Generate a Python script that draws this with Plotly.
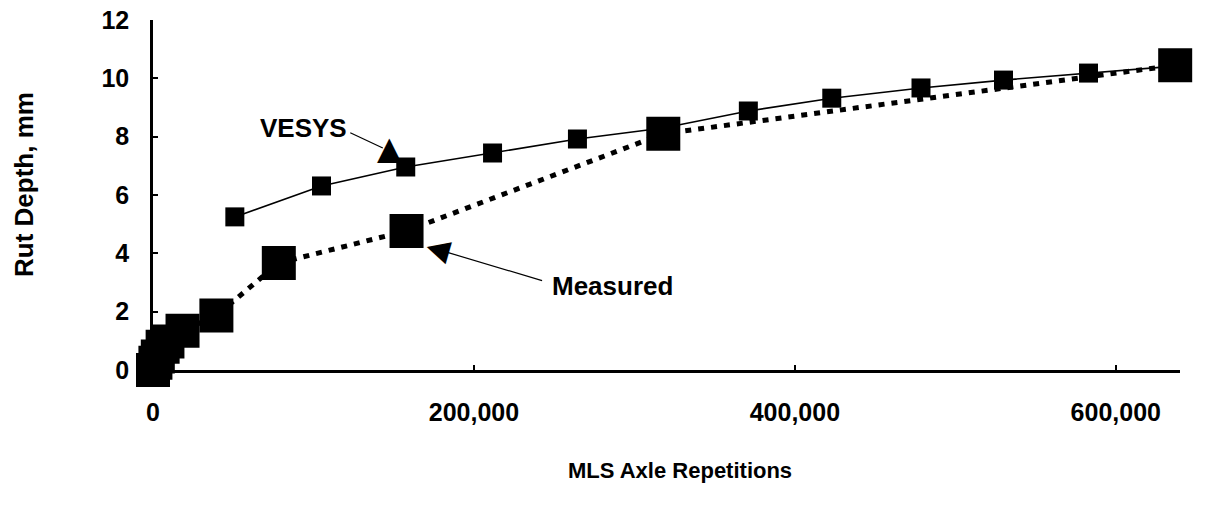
import plotly.graph_objects as go

# VESYS predicted rut depth
vesys_x = [51000, 105000, 157500, 211600, 264500, 318000, 371000, 423000, 478600, 530000, 583000, 637000]
vesys_y = [5.25, 6.31, 6.96, 7.44, 7.92, 8.30, 8.88, 9.32, 9.67, 9.94, 10.18, 10.42]

# Measured rut depth
meas_x = [0, 1500, 3000, 6000, 9000, 18400, 39500, 78400, 158000, 318000, 637000]
meas_y = [0.0, 0.25, 0.46, 0.80, 0.98, 1.35, 1.87, 3.67, 4.77, 8.10, 10.45]

y_ticks = [0, 2, 4, 6, 8, 10, 12]
x_ticks = [0, 200000, 400000, 600000]
x_tick_text = ["0", "200,000", "400,000", "600,000"]

FONT = "Liberation Sans, Arial, sans-serif"

fig = go.Figure()
fig.add_trace(go.Scatter(
    x=meas_x, y=meas_y, mode="lines+markers", name="Measured",
    line=dict(color="black", width=5, dash="6px,7px"),
    marker=dict(symbol="square", size=34, color="black"),
    cliponaxis=False,
))
fig.add_trace(go.Scatter(
    x=vesys_x, y=vesys_y, mode="lines+markers", name="VESYS",
    line=dict(color="black", width=1.6),
    marker=dict(symbol="square", size=19, color="black"),
    cliponaxis=False,
))

ann_font = dict(family=FONT, size=26, color="black", weight="bold")
annotations = [
    dict(x=94000, y=8.3, text="VESYS", showarrow=False, font=ann_font),
    dict(x=143200, y=7.61, ax=122000, ay=8.16, axref="x", ayref="y",
         text="", showarrow=True, arrowhead=0, arrowwidth=1.2, arrowcolor="black"),
    dict(x=147500, y=7.6, text="▲", showarrow=False,
         font=dict(family="DejaVu Sans", size=32, color="black")),
    dict(x=286300, y=2.88, text="Measured", showarrow=False, font=ann_font),
    dict(x=182400, y=4.05, ax=243400, ay=3.05, axref="x", ayref="y",
         text="", showarrow=True, arrowhead=0, arrowwidth=1.2, arrowcolor="black"),
    dict(x=178000, y=4.2, text="◀", showarrow=False, textangle=16,
         font=dict(family="DejaVu Sans", size=30, color="black")),
    # axis titles
    dict(x=0, y=0.5, xref="paper", yref="paper", xshift=-129, yshift=10,
         xanchor="center", yanchor="middle",
         text="Rut Depth, mm", textangle=-90, showarrow=False,
         font=dict(family=FONT, size=26, color="black", weight="bold")),
    dict(x=0.513, y=0, xref="paper", yref="paper", yshift=-100,
         xanchor="center", yanchor="middle",
         text="MLS Axle Repetitions", showarrow=False,
         font=dict(family=FONT, size=22, color="black", weight="bold")),
]

tick_font = dict(family=FONT, size=25, color="black", weight="bold")
fig.update_layout(
    width=1205, height=519,
    margin=dict(l=153, r=25, t=20, b=149),
    paper_bgcolor="white", plot_bgcolor="white",
    showlegend=False,
    annotations=annotations,
    xaxis=dict(
        range=[0, 640000], tickvals=x_ticks, ticktext=x_tick_text, automargin=False,
        showgrid=False, zeroline=False, showline=True, linecolor="black", linewidth=3,
        ticks="inside", ticklen=5, tickwidth=2, tickcolor="black",
        tickfont=tick_font, ticklabelstandoff=18, ticklabeloverflow="allow",
    ),
    yaxis=dict(
        range=[0, 12], tickvals=y_ticks, automargin=False,
        showgrid=False, zeroline=False, showline=True, linecolor="black", linewidth=2.5,
        ticks="inside", ticklen=5, tickwidth=2, tickcolor="black",
        tickfont=tick_font, ticklabelstandoff=16, ticklabeloverflow="allow",
    ),
)

fig.write_html(
    "out.html",
    config={"displayModeBar": False},
    post_script="document.body.style.margin='0';document.body.style.overflow='hidden';",
)
